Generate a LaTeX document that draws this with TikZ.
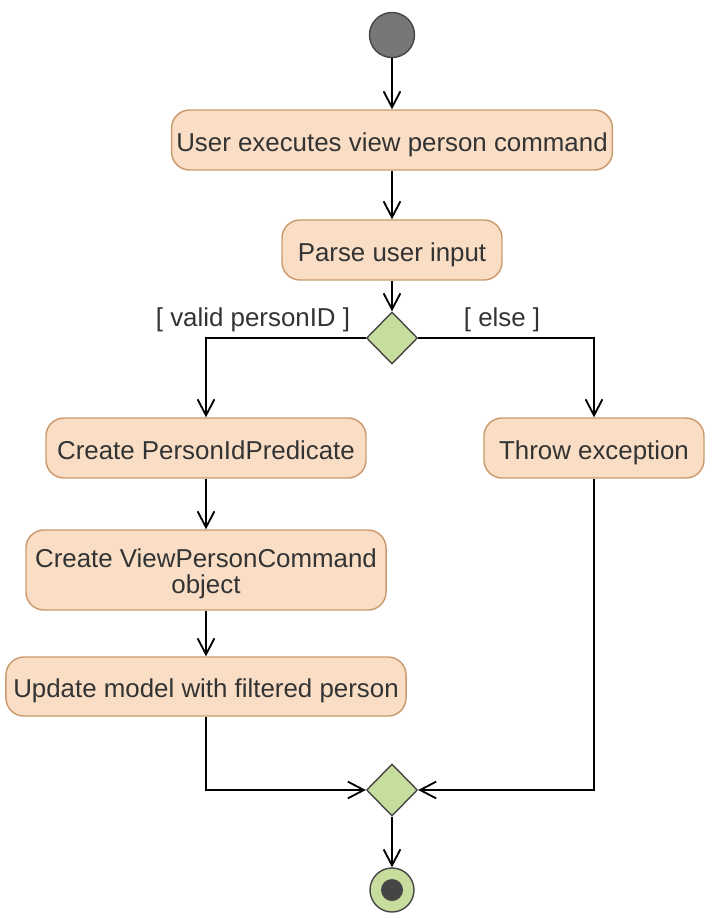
\documentclass[tikz,border=0pt]{standalone}
\usepackage{fontspec}
\setmainfont{Liberation Sans}
\usetikzlibrary{shapes.geometric,arrows.meta}
\definecolor{boxfill}{HTML}{F9DEC5}
\definecolor{boxrand}{HTML}{C9996B}
\definecolor{rautefill}{HTML}{C7DD9E}
\definecolor{dunkel}{HTML}{454545}
\definecolor{startgrau}{HTML}{777777}
\definecolor{schrift}{HTML}{333333}

\begin{document}
\begin{tikzpicture}[x=0.025cm,y=-0.025cm,
	schrift/.style={text=schrift,font=\fontsize{18.4}{18.4}\selectfont},
	aktion/.style={schrift,draw=boxrand,fill=boxfill,rounded corners=0.45cm,line width=1pt,minimum height=1.5cm,align=center,text height=0.6cm,text depth=0.05cm},
	raute/.style={diamond,draw=dunkel,fill=rautefill,line width=1pt,minimum width=1.275cm,minimum height=1.3cm,inner sep=0pt},
	pfeil/.style={-{Straight Barb[length=0.4cm,width=0.42cm]},line width=1.3pt}]
					\useasboundingbox (0,0) rectangle (714,922);
					%Knoten
					\node[circle,draw=dunkel,fill=startgrau,line width=1pt,minimum size=1.125cm] (start) at (392,35) {};
					\node[aktion,minimum width=11cm] (ausfuehren) at (392,140) {User executes view person command};
					\node[aktion,minimum width=5.5cm] (parsen) at (392,250) {Parse user input};
					\node[raute] (raute1) at (392,338) {};
					\node[aktion,minimum width=8cm] (praedikat) at (206,448) {Create PersonIdPredicate};
					\node[aktion,minimum width=5.5cm] (ausnahme) at (594,448) {Throw exception};
					\node[aktion,minimum width=9cm,minimum height=2cm,text height=1.2cm,text depth=0.04cm] (befehl) at (206,570) {Create ViewPersonCommand\\object};
					\node[aktion,minimum width=10cm,minimum height=1.475cm] (aktualisieren) at (206,686.5) {Update model with filtered person};
					\node[raute] (raute2) at (392,790) {};
					\node[circle,draw=dunkel,fill=rautefill,line width=1pt,minimum size=1.1cm] (ende) at (392,890) {};
					\node[circle,fill=dunkel,minimum size=0.55cm,inner sep=0pt] (endepunkt) at (ende) {};
					%Beschriftungen Kanten
					\node[schrift] (gueltig) at (253,320) {[ valid personID ]};
					\node[schrift] (sonst) at (502,320) {[ else ]};
					%Linien
					\draw[pfeil] (start) -- (ausfuehren);
					\draw[pfeil] (ausfuehren) -- (parsen);
					\draw[pfeil] (parsen) -- (raute1);
					\draw[pfeil] (raute1.west) -| (praedikat.north);
					\draw[pfeil] (raute1.east) -| (ausnahme.north);
					\draw[pfeil] (praedikat) -- (befehl);
					\draw[pfeil] (befehl) -- (aktualisieren);
					\draw[pfeil] (aktualisieren.south) |- (raute2.west);
					\draw[pfeil] (ausnahme.south) |- (raute2.east);
					\draw[pfeil] (raute2) -- (ende);
				\end{tikzpicture}
\end{document}
